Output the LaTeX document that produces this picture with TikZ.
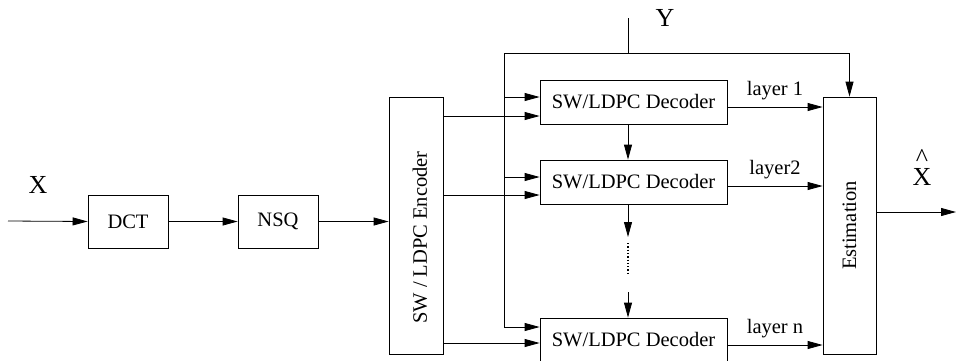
\documentclass[tikz,border=0pt]{standalone}
\usepackage{fontspec}
\setmainfont{Liberation Serif}
\usepackage{graphicx}
\usetikzlibrary{arrows.meta}

\begin{document}
\begin{tikzpicture}[x=1pt,y=-1pt,line width=0.8pt,
		arr/.style={-{Triangle[length=15pt,width=8pt]}},
		block/.style={draw,inner sep=0pt,font=\fontsize{20.5}{24}\selectfont},
		lab/.style={inner sep=0pt,font=\fontsize{20.5}{24}\selectfont},
		big/.style={inner sep=0pt,font=\fontsize{26}{28}\selectfont}]
			\useasboundingbox (0,0) rectangle (956,360);
			
			% source side
			\node [block,minimum width=80pt,minimum height=53pt] (dct) at (128,221.5) {DCT};
			\node [block,minimum width=80pt,minimum height=53pt] (nsq) at (278,221.5) {NSQ};
			\node [block,minimum width=54pt,minimum height=257pt] (enc) at (416,225.5) {};
			\node [lab,rotate=90] (enctxt) at (420,237.5) {SW / LDPC Encoder};
			\coordinate (xin) at (8,221);
			\node [big] (xlab) at (38,185) {X};
			\draw [arr] (xin) -- (dct.west);
			\draw [arr] (dct.east) -- (nsq.west);
			\draw [arr] (nsq.east) -- (nsq.east -| enc.west);
			
			% decoders
			\node [block,minimum width=187pt,minimum height=44pt] (dec1) at (633.5,102) {SW/LDPC Decoder};
			\node [block,minimum width=187pt,minimum height=44pt] (dec2) at (633.5,182) {SW/LDPC Decoder};
			\node [block,minimum width=187pt,minimum height=44pt] (decn) at (633.5,340) {SW/LDPC Decoder};
			\node [block,minimum width=53pt,minimum height=257pt] (est) at (849.5,225.5) {\rotatebox{90}{Estimation}};
			
			% encoder outputs
			\coordinate (e1) at ([yshift=-14pt]dec1.west);
			\coordinate (e2) at ([yshift=-13pt]dec2.west);
			\coordinate (en) at ([yshift=-3pt]decn.west);
			\draw [arr] (enc.east |- e1) -- (e1);
			\draw [arr] (enc.east |- e2) -- (e2);
			\draw [arr] (enc.east |- en) -- (en);
			
			% side information Y
			\coordinate (ytop) at (628,18);
			\coordinate (busl) at (504,53);
			\node [big] (ylab) at (665,18) {Y};
			\draw (ytop) -- (ytop |- busl);
			\draw [arr] (busl) -- (busl -| est.north) -- (est.north);
			\draw [arr] (busl) |- ([yshift=5pt]dec1.west);
			\draw [arr] (busl) |- ([yshift=5pt]dec2.west);
			\draw [arr] (busl) |- ([yshift=13pt]decn.west);
			
			% chain between decoders
			\coordinate (gapa) at (628,237);
			\coordinate (dota) at (628,243);
			\coordinate (dotb) at (628,274);
			\coordinate (gapb) at (628,292);
			\draw [arr] ([xshift=-5.5pt]dec1.south) -- ([xshift=-5.5pt]dec2.north);
			\draw [arr] ([xshift=-5.5pt]dec2.south) -- (gapa);
			\draw [dotted,line width=1.3pt] (dota) -- (dotb);
			\draw [arr] (gapb) -- ([xshift=-5.5pt]decn.north);
			
			% layers into estimation
			\coordinate (l1) at ([yshift=-5pt]dec1.east);
			\coordinate (l2) at ([yshift=-4pt]dec2.east);
			\coordinate (ln) at ([yshift=-5pt]decn.east);
			\draw [arr] (l1) -- (l1 -| est.west) node [lab,midway,above=7pt] (lay1) {layer 1};
			\draw [arr] (l2) -- (l2 -| est.west) node [lab,midway,above=7pt] (lay2) {layer2};
			\draw [arr] (ln) -- (ln -| est.west) node [lab,midway,above=7pt] (layn) {layer n};
			
			% output, estimate of X with its hat
			\coordinate (xout) at (956,212);
			\draw [arr] (xout -| est.east) -- (xout);
			\node [big,anchor=base] (hat) at (922,166) {\textasciicircum};
			\node [big,anchor=base] (xhat) at (922,185) {X};
		\end{tikzpicture}
\end{document}
